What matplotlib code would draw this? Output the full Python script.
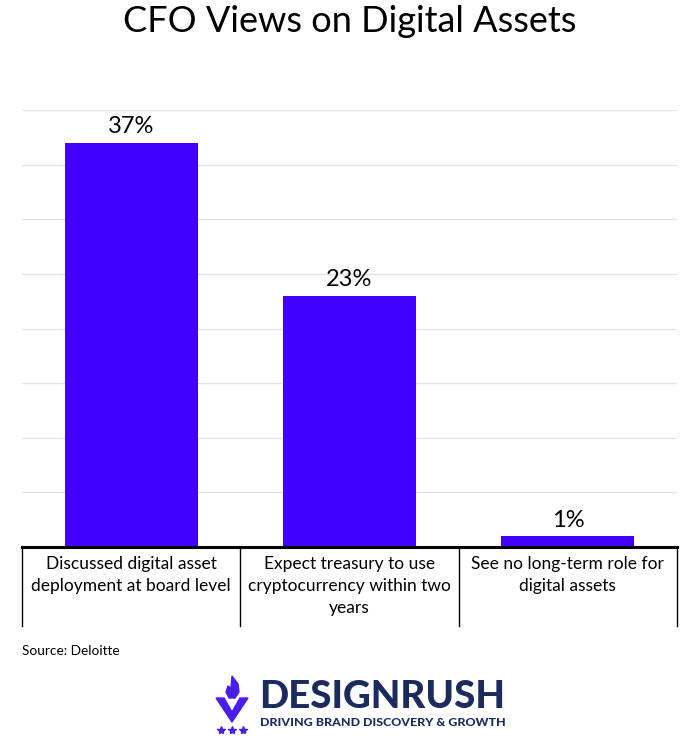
import matplotlib.pyplot as plt
from matplotlib.lines import Line2D
from matplotlib.patches import Polygon

categories = [
    "Discussed digital asset\ndeployment at board level",
    "Expect treasury to use\ncryptocurrency within two\nyears",
    "See no long-term role for\ndigital assets",
]
values = [37, 23, 1]
value_labels = ["37%", "23%", "1%"]

plt.rcParams['font.family'] = ['Lato', 'DejaVu Sans']

W, H = 700, 741
fig = plt.figure(figsize=(W / 100, H / 100), dpi=100)
ax = fig.add_axes([22 / W, 1 - 547 / H, 655 / W, 437 / H])

x = range(len(values))
ax.bar(x, values, width=0.61, color='#4400ff', zorder=3)
for i, (v, lab) in enumerate(zip(values, value_labels)):
    ax.text(i, v + 0.5, lab, ha='center', va='bottom', fontsize=17, color='black')

ax.set_xlim(-0.5, len(values) - 0.5)
ax.set_ylim(0, 40)
ax.set_yticks(range(0, 41, 5))
ax.yaxis.grid(True, color='#e3e3e3', linewidth=1)
ax.tick_params(left=False, bottom=False, labelleft=False, labelbottom=False)
for s in ['top', 'right', 'left']:
    ax.spines[s].set_visible(False)
ax.spines['bottom'].set_linewidth(2.2)
ax.spines['bottom'].set_zorder(4)

# category "table" under the axis
tr = ax.get_xaxis_transform()
drop = -79 / 437
for b in [-0.5, 0.5, 1.5, 2.5]:
    ax.add_line(Line2D([b, b], [0, drop], transform=tr, color='black',
                       linewidth=1, clip_on=False))
for i, c in enumerate(categories):
    ax.text(i, -9 / 437, c, transform=tr, ha='center', va='top',
            fontsize=12.5, linespacing=1.47)

fig.text(0.5, 1 - 22 / H, "CFO Views on Digital Assets", ha='center', va='center',
         fontsize=26)
fig.text(22 / W, 1 - 651 / H, "Source: Deloitte", ha='left', va='center', fontsize=9.8)

# logo
navy = '#1c2b5e'
purple = '#4a1ee8'
fig.text(259 / W, 1 - 697 / H, "DESIGNRUSH", ha='left', va='center',
         fontsize=27.6, fontweight='black', color=navy)
fig.text(260 / W, 1 - 722 / H, "DRIVING BRAND DISCOVERY & GROWTH", ha='left',
         va='center', fontsize=8.9, fontweight='black', color=navy)

def px(pts):
    return [(a / W, 1 - b / H) for a, b in pts]

vshape = [(216, 698), (224, 698), (232, 712), (240, 698), (248, 698), (232, 722)]
fig.add_artist(Polygon(px(vshape), closed=True, color=purple, transform=fig.transFigure))
flame = [(232, 676), (238, 684), (239, 692), (235, 698), (229, 698), (226, 692),
         (228, 686), (231, 688)]
fig.add_artist(Polygon(px(flame), closed=True, color=purple, transform=fig.transFigure))
for sx in [221, 232, 243]:
    fig.add_artist(Line2D([sx / W], [1 - 730 / H], marker='*', markersize=6,
                          color=purple, linestyle='none', transform=fig.transFigure))

fig.savefig('out.png', dpi=100, facecolor='white')
